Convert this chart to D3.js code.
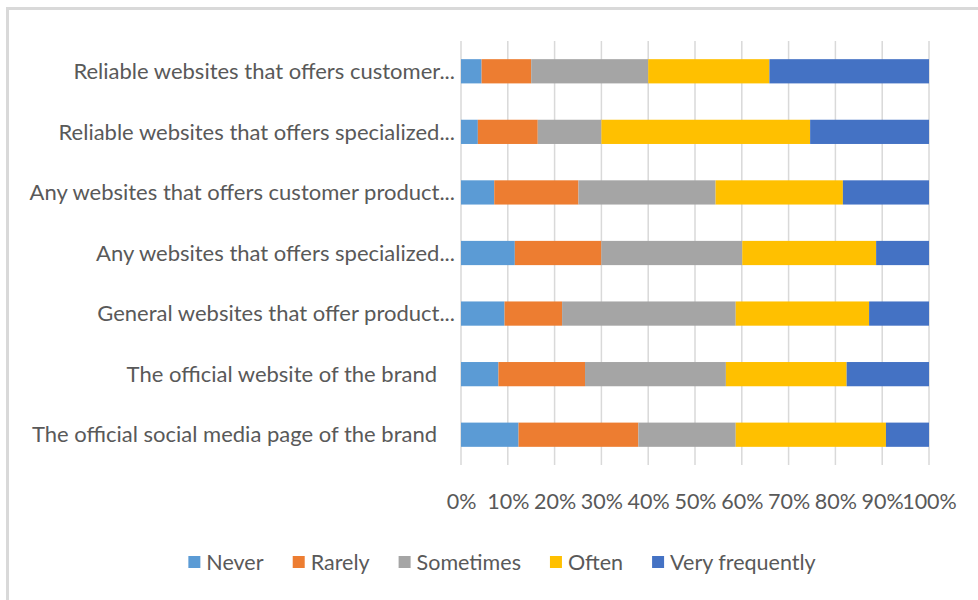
<!DOCTYPE html>
<html>
<head>
<meta charset="utf-8">
<script src="https://cdn.jsdelivr.net/npm/d3@7"></script>
<style>
  body { margin: 0; background: #fff; }
  text { font-family: Lato, "Open Sans", sans-serif; fill: #595959; }
</style>
</head>
<body>
<div id="chart"></div>
<script>
// categories top to bottom, as shown
const categories = [
    'Reliable websites that offers customer...',
    'Reliable websites that offers specialized...',
    'Any websites that offers customer product...',
    'Any websites that offers specialized...',
    'General websites that offer product...',
    'The official website of the brand',
    'The official social media page of the brand'
];
const truncated = categories.map(c => c.endsWith('...'));

const seriesNames = ['Never', 'Rarely', 'Sometimes', 'Often', 'Very frequently'];
const colors = ['#5B9BD5', '#ED7D31', '#A5A5A5', '#FFC000', '#4472C4'];

// percent shares per category (same order as categories)
const never          = [4.4, 3.6, 7.1, 11.5, 9.3, 8.0, 12.3];
const rarely         = [10.6, 12.8, 18.0, 18.5, 12.3, 18.5, 25.6];
const sometimes      = [25.0, 13.6, 29.3, 30.1, 37.1, 30.1, 20.8];
const often          = [25.9, 44.6, 27.2, 28.6, 28.5, 25.8, 32.1];
const veryFrequently = [34.1, 25.4, 18.4, 11.3, 12.8, 17.6, 9.2];

const tickValues = [0, 10, 20, 30, 40, 50, 60, 70, 80, 90, 100];

const width = 978, height = 600;
const svg = d3.select('#chart').append('svg')
    .attr('width', width)
    .attr('height', height);

// outer frame (only top and left edges fall inside the picture)
svg.append('rect')
    .attr('x', 7.5).attr('y', 8.5)
    .attr('width', 1000).attr('height', 700)
    .attr('fill', 'none')
    .attr('stroke', '#d9d9d9')
    .attr('stroke-width', 3);

const plot = { left: 461, right: 929, top: 41, bottom: 465 };

const x = d3.scaleLinear().domain([0, 100]).range([plot.left, plot.right]);
const y = d3.scaleBand().domain(categories)
    .range([plot.top, plot.bottom])
    .paddingInner(0.6).paddingOuter(0.3);

// gridlines
svg.append('g').selectAll('line')
    .data(tickValues)
    .enter().append('line')
    .attr('x1', d => x(d)).attr('x2', d => x(d))
    .attr('y1', plot.top).attr('y2', plot.bottom)
    .attr('stroke', '#d9d9d9')
    .attr('stroke-width', 1.5);

// stacked data
const rows = categories.map((c, i) => ({
    category: c,
    Never: never[i],
    Rarely: rarely[i],
    Sometimes: sometimes[i],
    Often: often[i],
    'Very frequently': veryFrequently[i]
}));
const stacked = d3.stack().keys(seriesNames)(rows);

svg.append('g').selectAll('g')
    .data(stacked)
    .enter().append('g')
    .attr('fill', (d, i) => colors[i])
    .selectAll('rect')
    .data(d => d)
    .enter().append('rect')
    .attr('x', d => x(d[0]))
    .attr('y', d => y(d.data.category))
    .attr('width', d => x(d[1]) - x(d[0]))
    .attr('height', y.bandwidth());

// category labels
svg.append('g').selectAll('text')
    .data(categories)
    .enter().append('text')
    .attr('x', (d, i) => x(0) - (truncated[i] ? 6 : 24))
    .attr('y', d => y(d) + y.bandwidth() / 2)
    .attr('dy', '0.35em')
    .attr('text-anchor', 'end')
    .style('font-size', '22px')
    .text(d => d);

// x axis labels
const xAxis = svg.append('g')
    .attr('transform', `translate(0, ${plot.bottom})`)
    .call(d3.axisBottom(x).tickValues(tickValues).tickFormat(d => d + '%').tickSize(0).tickPadding(29));
xAxis.select('.domain').remove();
xAxis.selectAll('text')
    .style('font-size', '21.5px')
    .style('font-family', 'Lato, "Open Sans", sans-serif')
    .attr('fill', '#595959');

// legend
const legend = svg.append('g');
const items = legend.selectAll('g')
    .data(seriesNames)
    .enter().append('g');
items.append('rect')
    .attr('width', 12).attr('height', 12)
    .attr('y', -6)
    .attr('fill', (d, i) => colors[i]);
items.append('text')
    .attr('x', 18)
    .attr('dy', '0.35em')
    .style('font-size', '21.5px')
    .text(d => d);

let cursor = 0;
const offsets = [];
items.each(function () {
    offsets.push(cursor);
    cursor += this.getBBox().width + 29;
});
const legendWidth = cursor - 29;
const legendLeft = 502 - legendWidth / 2;
items.attr('transform', (d, i) => `translate(${legendLeft + offsets[i]}, 562)`);
</script>
</body>
</html>
